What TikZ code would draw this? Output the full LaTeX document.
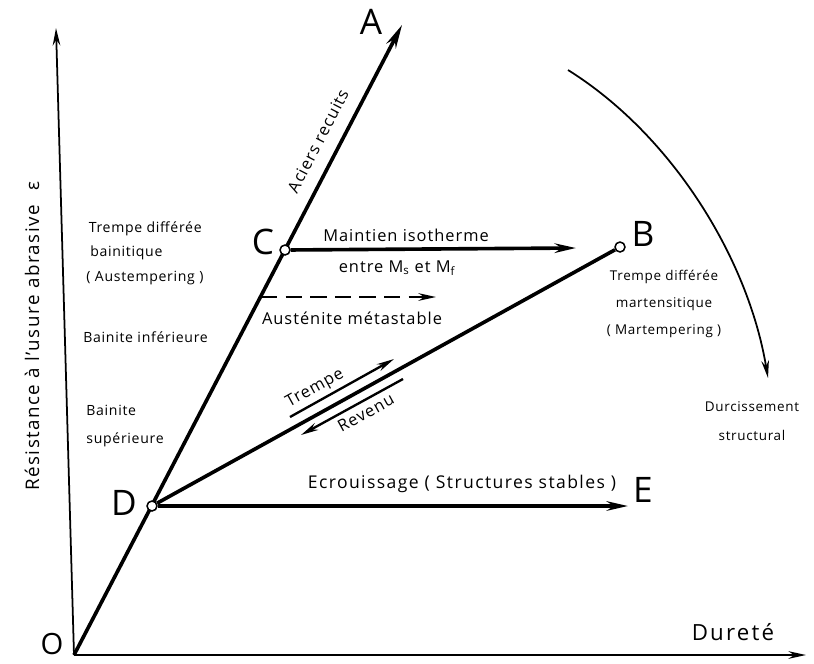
\documentclass[tikz,border=0pt]{standalone}
\usepackage{fontspec}
\setmainfont{Open Sans}
\usetikzlibrary{arrows.meta,positioning,calc}

\begin{document}
\begin{tikzpicture}[x=0.03cm, y=-0.03cm,
    axis/.style={line width=1.5pt},
    route/.style={line width=3.1pt},
    thin route/.style={line width=2pt},
    pt/.style={circle, draw, line width=1.3pt, fill=white, inner sep=0pt, minimum size=8.5pt},
    letter/.style={font=\fontsize{30}{32}\selectfont, inner sep=1pt},
    lbl/.style={font=\fontsize{14}{16}\selectfont\addfontfeature{LetterSpace=6}, align=center, inner sep=1pt},
    small/.style={font=\fontsize{12}{21}\selectfont\addfontfeature{LetterSpace=5}, align=left, inner sep=1pt},
    >={Stealth[length=15pt, width=6.5pt]}
]
\useasboundingbox (0,0) rectangle (814,663);

% points of the diagram
\coordinate (O) at (74,655);
\coordinate (yend) at (56,28);
\coordinate (xend) at (806,655);
\coordinate (Atip) at (402,25);
\coordinate (Ctip) at (576,248);
\coordinate (Etip) at (628,506);

% axes
\draw[axis, ->] (O) -- (yend);
\draw[axis, ->] (O) -- (xend);
\draw[route, -{Stealth[length=20pt, width=9pt]}] (O) -- (Atip);

\node[pt] (C) at (285,250) {};
\node[pt] (D) at (152,506) {};
\node[pt] (B) at (620,247) {};

\draw[route] (D) -- (B);
\draw[route, -{Stealth[length=18pt, width=8pt]}] (D) -- (Etip);
\draw[route, -{Stealth[length=18pt, width=8pt]}] (C) -- (Ctip);

% dashed: metastable austenite
\coordinate (M1) at (261,297);
\coordinate (M2) at (436,297);
\draw[thin route, dash pattern=on 14pt off 7pt, ->] (M1) -- (M2);

% quench / temper
\coordinate (T1) at (290,417);
\coordinate (T2) at (394,359);
\coordinate (R1) at (403,379);
\coordinate (R2) at (301,435);
\draw[thin route, ->] (T1) -- node[lbl, sloped, above=2pt, pos=0.3] (trempe) {Trempe} (T2);
\draw[thin route, ->] (R1) -- node[lbl, sloped, below=3pt, pos=0.42] (revenu) {Revenu} (R2);

% structural hardening
\coordinate (H1) at (568,70);
\coordinate (H2) at (768,378);
\draw[axis, ->] (H1) .. controls (672,135) and (748,258) .. (H2);

% letters
\node[letter] (Alab) at (371,22) {A};
\node[letter] (Blab) at (643,234) {B};
\node[letter] (Clab) at (263,242) {C};
\node[letter] (Dlab) at (124,503) {D};
\node[letter] (Elab) at (643,490) {E};
\node[letter, font=\fontsize{25}{27}\selectfont] (Olab) at (52,644) {O};

% texts
\node[lbl, rotate=62.6] (recuits) at (318,141) {Aciers recuits};
\node[lbl] (maintien) at (406,235) {Maintien isotherme};
\node[lbl] (entre) at (397,268) {entre M$_{\mathrm{s}}$ et M$_{\mathrm{f}}$};
\node[lbl] (austenite) at (352,318) {Austénite métastable};
\node[lbl, font=\fontsize{15}{17}\selectfont\addfontfeature{LetterSpace=8}] (ecroui) at (462,484) {Ecrouissage ( Structures stables )};
\node[lbl, font=\fontsize{19}{21}\selectfont\addfontfeature{LetterSpace=10}] (durete) at (733,632) {Dureté};
\node[small, anchor=west] (austemp) at (85,253) {\,Trempe différée\\ \;bainitique\\( Austempering )};
\node[small, anchor=west] (binf) at (82,337) {Bainite inférieure};
\node[small, anchor=west, font=\fontsize{12}{24}\selectfont\addfontfeature{LetterSpace=5}] (bsup) at (85,426) {Bainite\\supérieure};
\node[small, align=center, font=\fontsize{11.5}{23}\selectfont\addfontfeature{LetterSpace=5}] (martemp) at (664,304) {Trempe différée\\ martensitique\\ ( Martempering )};
\node[small, align=center, font=\fontsize{11.5}{25}\selectfont\addfontfeature{LetterSpace=5}] (durciss) at (752,421) {Durcissement\\ structural};
\node[lbl, rotate=90, font=\fontsize{16}{18}\selectfont\addfontfeature{LetterSpace=8}] (resist) at (32,336) {Résistance à l'usure abrasive\hspace{0.8em}ε};
\end{tikzpicture}
\end{document}
